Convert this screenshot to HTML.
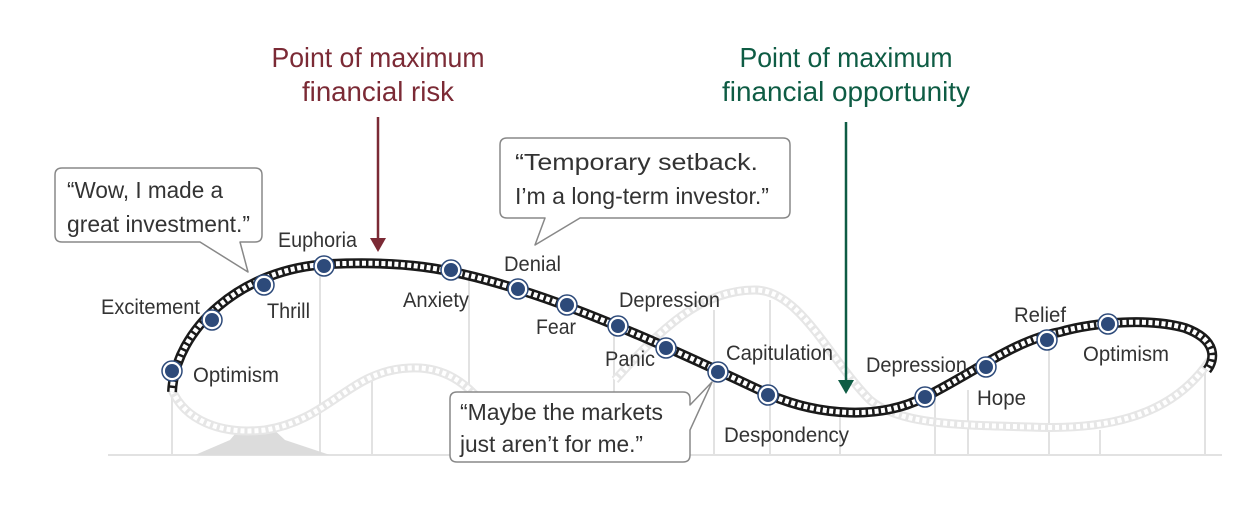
<!DOCTYPE html>
<html><head><meta charset="utf-8"><style>
html,body{margin:0;padding:0;background:#fff;}
svg{display:block;}
text{font-family:"Liberation Sans Narrow","Liberation Sans",sans-serif;fill:#333;}
</style></head><body>
<svg width="1256" height="522" viewBox="0 0 1256 522" xmlns="http://www.w3.org/2000/svg">
<g stroke="#e2e2e2" stroke-width="2">
<line x1="108" y1="455" x2="1222" y2="455"/>
<line x1="172" y1="380" x2="172" y2="455"/>
<line x1="320" y1="270" x2="320" y2="455"/>
<line x1="372" y1="380" x2="372" y2="455"/>
<line x1="469" y1="275" x2="469" y2="455"/>
<line x1="614" y1="320" x2="614" y2="455"/>
<line x1="714" y1="310" x2="714" y2="455"/>
<line x1="770" y1="300" x2="770" y2="455"/>
<line x1="840" y1="410" x2="840" y2="455"/>
<line x1="935" y1="390" x2="935" y2="455"/>
<line x1="968" y1="390" x2="968" y2="455"/>
<line x1="1049" y1="340" x2="1049" y2="455"/>
<line x1="1100" y1="430" x2="1100" y2="455"/>
<line x1="1205" y1="370" x2="1205" y2="455"/>
</g>
<path d="M195,455 L230,440 L240,428 L270,426 L285,440 L330,455 Z" fill="#dcdcdc"/>
<path d="M172,390 C185,420 220,435 265,430 C330,420 350,370 410,368 C450,366 470,390 480,400 M615,380 C660,330 700,290 755,290 C800,290 830,360 870,400 C900,425 960,425 1030,427 C1100,430 1170,420 1210,360"
 fill="none" stroke="#e6e6e6" stroke-width="9"/>
<path d="M172,390 C185,420 220,435 265,430 C330,420 350,370 410,368 C450,366 470,390 480,400 M615,380 C660,330 700,290 755,290 C800,290 830,360 870,400 C900,425 960,425 1030,427 C1100,430 1170,420 1210,360"
 fill="none" stroke="#fff" stroke-width="5" stroke-dasharray="4 3"/>
<path d="M172,392 C175,330 240,268 330,264 C400,261 445,266 520,290 C600,315 700,362 770,395 C820,416 880,420 925,397 C975,372 1015,340 1060,332 C1095,322 1150,318 1185,328 C1218,340 1215,360 1207,370"
 fill="none" stroke="#1a1a1a" stroke-width="10"/>
<path d="M172,392 C175,330 240,268 330,264 C400,261 445,266 520,290 C600,315 700,362 770,395 C820,416 880,420 925,397 C975,372 1015,340 1060,332 C1095,322 1150,318 1185,328 C1218,340 1215,360 1207,370"
 fill="none" stroke="#fff" stroke-width="5" stroke-dasharray="4 2.5"/>
<g>
<g transform="translate(0,0)"><circle cx="172" cy="371" r="10" fill="#fff" stroke="#2d4a7a" stroke-width="1.5"/><circle cx="172" cy="371" r="7" fill="#2d4a7a"/></g>
<g transform="translate(40,-51)"><circle cx="172" cy="371" r="10" fill="#fff" stroke="#2d4a7a" stroke-width="1.5"/><circle cx="172" cy="371" r="7" fill="#2d4a7a"/></g>
<g transform="translate(92,-86)"><circle cx="172" cy="371" r="10" fill="#fff" stroke="#2d4a7a" stroke-width="1.5"/><circle cx="172" cy="371" r="7" fill="#2d4a7a"/></g>
<g transform="translate(152,-105)"><circle cx="172" cy="371" r="10" fill="#fff" stroke="#2d4a7a" stroke-width="1.5"/><circle cx="172" cy="371" r="7" fill="#2d4a7a"/></g>
<g transform="translate(279,-101)"><circle cx="172" cy="371" r="10" fill="#fff" stroke="#2d4a7a" stroke-width="1.5"/><circle cx="172" cy="371" r="7" fill="#2d4a7a"/></g>
<g transform="translate(346,-82)"><circle cx="172" cy="371" r="10" fill="#fff" stroke="#2d4a7a" stroke-width="1.5"/><circle cx="172" cy="371" r="7" fill="#2d4a7a"/></g>
<g transform="translate(395,-66)"><circle cx="172" cy="371" r="10" fill="#fff" stroke="#2d4a7a" stroke-width="1.5"/><circle cx="172" cy="371" r="7" fill="#2d4a7a"/></g>
<g transform="translate(446,-45)"><circle cx="172" cy="371" r="10" fill="#fff" stroke="#2d4a7a" stroke-width="1.5"/><circle cx="172" cy="371" r="7" fill="#2d4a7a"/></g>
<g transform="translate(494,-23)"><circle cx="172" cy="371" r="10" fill="#fff" stroke="#2d4a7a" stroke-width="1.5"/><circle cx="172" cy="371" r="7" fill="#2d4a7a"/></g>
<g transform="translate(546,1)"><circle cx="172" cy="371" r="10" fill="#fff" stroke="#2d4a7a" stroke-width="1.5"/><circle cx="172" cy="371" r="7" fill="#2d4a7a"/></g>
<g transform="translate(596,24)"><circle cx="172" cy="371" r="10" fill="#fff" stroke="#2d4a7a" stroke-width="1.5"/><circle cx="172" cy="371" r="7" fill="#2d4a7a"/></g>
<g transform="translate(753,26)"><circle cx="172" cy="371" r="10" fill="#fff" stroke="#2d4a7a" stroke-width="1.5"/><circle cx="172" cy="371" r="7" fill="#2d4a7a"/></g>
<g transform="translate(814,-4)"><circle cx="172" cy="371" r="10" fill="#fff" stroke="#2d4a7a" stroke-width="1.5"/><circle cx="172" cy="371" r="7" fill="#2d4a7a"/></g>
<g transform="translate(875,-31)"><circle cx="172" cy="371" r="10" fill="#fff" stroke="#2d4a7a" stroke-width="1.5"/><circle cx="172" cy="371" r="7" fill="#2d4a7a"/></g>
<g transform="translate(936,-47)"><circle cx="172" cy="371" r="10" fill="#fff" stroke="#2d4a7a" stroke-width="1.5"/><circle cx="172" cy="371" r="7" fill="#2d4a7a"/></g>
</g>
<g fill="#fff" stroke="#888" stroke-width="1.5" stroke-linejoin="round">
<path d="M62,168 H255 Q262,168 262,175 V235 Q262,242 255,242 H240 L248,272 L200,242 H62 Q55,242 55,235 V175 Q55,168 62,168 Z"/>
<path d="M507,138 H783 Q790,138 790,145 V211 Q790,218 783,218 H580 L535,245 L545,218 H507 Q500,218 500,211 V145 Q500,138 507,138 Z"/>
<path d="M457,392 H683 Q690,392 690,399 V405 L712,382 L690,430 V455 Q690,462 683,462 H457 Q450,462 450,455 V399 Q450,392 457,392 Z"/>
</g>
<g font-size="23" lengthAdjust="spacingAndGlyphs">
<text x="67" y="198" textLength="156" lengthAdjust="spacingAndGlyphs">“Wow, I made a</text>
<text x="67" y="232" textLength="183" lengthAdjust="spacingAndGlyphs">great investment.”</text>
<text x="515" y="170" textLength="243" lengthAdjust="spacingAndGlyphs">“Temporary setback.</text>
<text x="515" y="204" textLength="254" lengthAdjust="spacingAndGlyphs">I’m a long-term investor.”</text>
<text x="460" y="420" textLength="203" lengthAdjust="spacingAndGlyphs">“Maybe the markets</text>
<text x="460" y="452" textLength="183" lengthAdjust="spacingAndGlyphs">just aren’t for me.”</text>
</g>
<g font-size="28" text-anchor="middle">
<text x="378" y="67" textLength="213" lengthAdjust="spacingAndGlyphs" style="fill:#7b2a35">Point of maximum</text>
<text x="378" y="101" textLength="152" lengthAdjust="spacingAndGlyphs" style="fill:#7b2a35">financial risk</text>
<text x="846" y="67" textLength="213" lengthAdjust="spacingAndGlyphs" style="fill:#0e5c44">Point of maximum</text>
<text x="846" y="101" textLength="248" lengthAdjust="spacingAndGlyphs" style="fill:#0e5c44">financial opportunity</text>
</g>
<line x1="378" y1="117" x2="378" y2="240" stroke="#7b2a35" stroke-width="2.5"/>
<path d="M370,238 L386,238 L378,252 Z" fill="#7b2a35"/>
<line x1="846" y1="122" x2="846" y2="382" stroke="#0e5c44" stroke-width="2.5"/>
<path d="M838,380 L854,380 L846,394 Z" fill="#0e5c44"/>
<g font-size="21">
<text x="101" y="314" textLength="99" lengthAdjust="spacingAndGlyphs">Excitement</text>
<text x="193" y="382" textLength="86" lengthAdjust="spacingAndGlyphs">Optimism</text>
<text x="267" y="318" textLength="43" lengthAdjust="spacingAndGlyphs">Thrill</text>
<text x="278" y="247" textLength="79" lengthAdjust="spacingAndGlyphs">Euphoria</text>
<text x="403" y="307" textLength="66" lengthAdjust="spacingAndGlyphs">Anxiety</text>
<text x="504" y="271" textLength="57" lengthAdjust="spacingAndGlyphs">Denial</text>
<text x="536" y="334" textLength="40" lengthAdjust="spacingAndGlyphs">Fear</text>
<text x="619" y="307" textLength="101" lengthAdjust="spacingAndGlyphs">Depression</text>
<text x="605" y="366" textLength="50" lengthAdjust="spacingAndGlyphs">Panic</text>
<text x="726" y="360" textLength="107" lengthAdjust="spacingAndGlyphs">Capitulation</text>
<text x="724" y="442" textLength="125" lengthAdjust="spacingAndGlyphs">Despondency</text>
<text x="866" y="372" textLength="101" lengthAdjust="spacingAndGlyphs">Depression</text>
<text x="977" y="405" textLength="49" lengthAdjust="spacingAndGlyphs">Hope</text>
<text x="1014" y="322" textLength="52" lengthAdjust="spacingAndGlyphs">Relief</text>
<text x="1083" y="361" textLength="86" lengthAdjust="spacingAndGlyphs">Optimism</text>
</g>
</svg>
</body></html>
